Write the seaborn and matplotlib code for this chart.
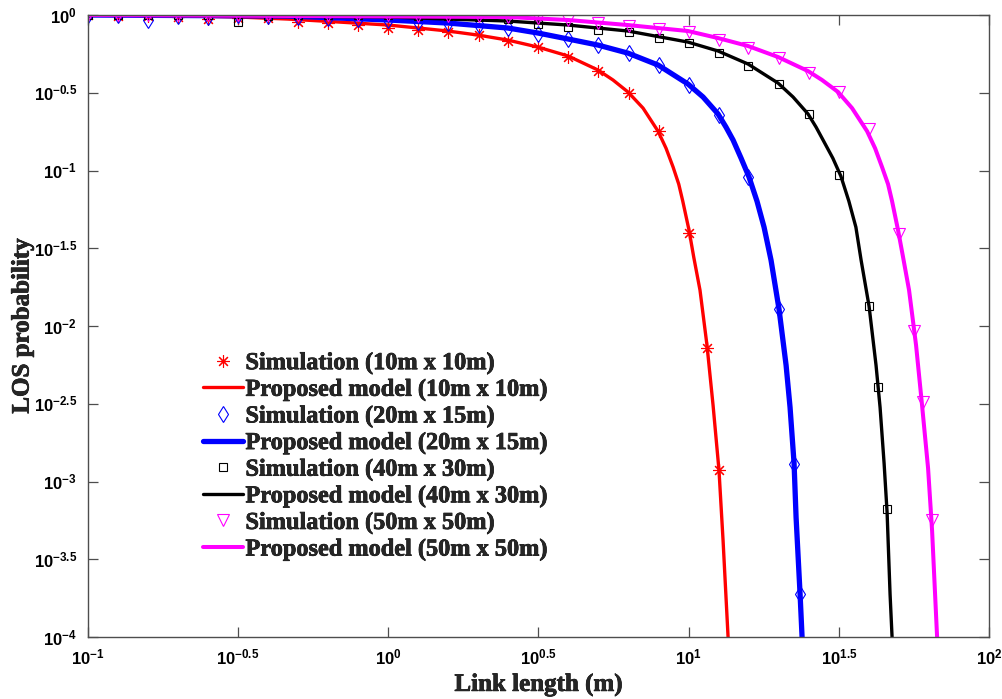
import numpy as np
import pandas as pd
import matplotlib
matplotlib.use("Agg")
import matplotlib.pyplot as plt
import seaborn as sns
from matplotlib.lines import Line2D
from matplotlib.ticker import FixedLocator, NullLocator
import matplotlib.patheffects as pe

# ---------------- data ----------------
# Simulation (10m x 10m)
sim1_x = [0.1, 0.126, 0.158, 0.2, 0.251, 0.316, 0.398, 0.501, 0.631, 0.794, 1.0, 1.26, 1.58, 2.0,
          2.51, 3.16, 3.98, 5.01, 6.31, 7.94, 10.0, 11.5, 12.6]
sim1_y = [1.0, 0.985, 0.985, 0.971, 0.942, 0.956, 0.956, 0.902, 0.888, 0.862, 0.825, 0.801, 0.777, 0.743,
          0.680, 0.622, 0.537, 0.436, 0.315, 0.179, 0.0396, 0.0072, 0.00118]
# Proposed model (10m x 10m)
mod1_x = [0.1, 0.215, 0.316, 0.463, 0.680, 1.0, 1.26, 1.58, 1.99, 2.50, 3.15, 3.97, 4.99, 5.60, 6.28,
          7.05, 7.91, 8.41, 8.88, 9.27, 9.56, 10.03, 10.40, 10.91, 11.51, 12.06, 12.62, 13.02, 13.53]
mod1_y = [1.0, 0.985, 0.971, 0.942, 0.902, 0.862, 0.825, 0.789, 0.743, 0.690, 0.622, 0.545, 0.443,
          0.382, 0.320, 0.252, 0.179, 0.139, 0.105, 0.0817, 0.0635, 0.0413, 0.0277, 0.0170, 0.00752,
          0.00309, 0.00118, 0.000418, 0.0001]

# Simulation (20m x 15m)
sim2_x = [0.1, 0.126, 0.158, 0.2, 0.251, 0.316, 0.398, 0.501, 0.631, 0.794, 1.0, 1.26, 1.58, 2.0,
          2.51, 3.16, 3.98, 5.01, 6.31, 7.94, 10.0, 12.6, 15.8, 20.0, 22.4, 23.5]
sim2_y = [1.0, 1.0, 0.929, 0.985, 0.971, 1.0, 0.985, 0.971, 0.956, 0.942, 0.929, 0.902, 0.888, 0.862,
          0.825, 0.755, 0.701, 0.641, 0.569, 0.477, 0.355, 0.227, 0.0907, 0.0128, 0.00129, 0.000188]
# Proposed model (20m x 15m)
mod2_x = [0.1, 0.463, 1.0, 1.58, 2.50, 3.15, 3.97, 4.99, 6.28, 7.91, 9.95, 11.17, 12.53, 13.32, 14.06,
          14.95, 15.89, 16.89, 17.83, 18.81, 20.0, 21.11, 21.76, 22.44, 22.79, 23.50, 23.86]
mod2_y = [1.0, 0.985, 0.929, 0.888, 0.825, 0.766, 0.701, 0.641, 0.569, 0.477, 0.360, 0.297, 0.231,
          0.190, 0.157, 0.120, 0.0907, 0.0635, 0.0432, 0.0265, 0.0128, 0.00559, 0.00300, 0.00131,
          0.000588, 0.000188, 0.0001]

# Simulation (40m x 30m)
sim3_x = [0.1, 0.126, 0.158, 0.2, 0.251, 0.316, 0.398, 0.501, 0.631, 0.794, 1.0, 1.26, 1.58, 2.0,
          2.51, 3.16, 3.98, 5.01, 6.31, 7.94, 10.0, 12.6, 15.8, 20.0, 25.1, 31.6, 39.8, 42.7, 45.8]
sim3_y = [1.0, 1.0, 1.0, 1.0, 1.0, 0.902, 0.985, 1.0, 1.0, 1.0, 1.0, 0.985, 0.985, 0.971,
          0.942, 0.875, 0.837, 0.801, 0.777, 0.711, 0.660, 0.569, 0.470, 0.360, 0.231, 0.0934, 0.0134,
          0.00404, 0.000665]
# Proposed model (40m x 30m)
mod3_x = [0.1, 1.0, 1.58, 2.50, 3.97, 6.28, 9.95, 12.53, 15.77, 19.85, 22.27, 24.98, 26.57, 28.03,
          30.21, 32.13, 34.16, 36.05, 37.52, 39.88, 42.07, 43.39, 44.75, 45.79, 46.85, 47.57]
mod3_y = [1.0, 0.971, 0.942, 0.915, 0.862, 0.789, 0.670, 0.587, 0.484, 0.365, 0.297, 0.231, 0.190,
          0.157, 0.120, 0.0920, 0.0635, 0.0432, 0.0265, 0.0134, 0.00559, 0.00300, 0.00131, 0.000633,
          0.000188, 0.0001]

# Simulation (50m x 50m)
sim4_x = [0.1, 0.126, 0.158, 0.2, 0.251, 0.316, 0.398, 0.501, 0.631, 0.794, 1.0, 1.26, 1.58, 2.0,
          2.51, 3.16, 3.98, 5.01, 6.31, 7.94, 10.0, 12.6, 15.8, 20.0, 25.1, 31.6, 39.8, 50.1, 56.3,
          60.3, 64.7]
sim4_y = [1.0, 1.0, 1.0, 1.0, 1.0, 1.0, 1.0, 1.0, 1.0, 1.0, 1.0, 0.985, 0.985, 0.985,
          0.971, 0.956, 0.929, 0.888, 0.850, 0.813, 0.777, 0.690, 0.613, 0.529, 0.423, 0.320, 0.185,
          0.0390, 0.00927, 0.00324, 0.000563]
# Proposed model (50m x 50m)
mod4_x = [0.1, 2.50, 3.97, 6.28, 9.95, 12.53, 15.77, 19.85, 24.98, 27.81, 31.44, 35.00, 39.28, 41.77,
          44.07, 46.13, 47.57, 49.81, 51.76, 54.19, 57.18, 59.87, 62.69, 64.65, 67.18]
mod4_y = [1.0, 0.971, 0.929, 0.862, 0.789, 0.711, 0.632, 0.537, 0.436, 0.382, 0.320, 0.252, 0.179,
          0.139, 0.105, 0.0817, 0.0635, 0.0413, 0.0277, 0.0170, 0.00752, 0.00309, 0.00122, 0.000484,
          0.0001]

sim_labels = ["Simulation (10m x 10m)", "Simulation (20m x 15m)",
              "Simulation (40m x 30m)", "Simulation (50m x 50m)"]
model_labels = ["Proposed model (10m x 10m)", "Proposed model (20m x 15m)",
                "Proposed model (40m x 30m)", "Proposed model (50m x 50m)"]

xtick_exponents = ["-1", "-0.5", "0", "0.5", "1", "1.5", "2"]
ytick_exponents = ["-4", "-3.5", "-3", "-2.5", "-2", "-1.5", "-1", "-0.5", "0"]
x_label = "Link length (m)"
y_label = "LOS probability"

# ---------------- styling ----------------
sns.set_style("ticks")
plt.rcParams["font.family"] = ["Liberation Serif", "DejaVu Serif"]
plt.rcParams["mathtext.fontset"] = "custom"
plt.rcParams["mathtext.bf"] = "Liberation Sans:bold"
plt.rcParams["mathtext.rm"] = "Liberation Sans"
plt.rcParams["mathtext.it"] = "Liberation Sans:italic"

colors = ["#ff0000", "#0000ff", "#000000", "#ff00ff"]
markers = [(8, 2, 0), "d", "s", "v"]
msizes = [9, 8, 6, 8.5]
lwidths = [2.4, 3.8, 2.4, 2.9]

fig = plt.figure(figsize=(10.02, 6.99), dpi=100)
ax = fig.add_axes([0.0878, 0.0887, 0.8992, 0.8898])
ax.set_xscale("log")
ax.set_yscale("log")

sims = [(sim1_x, sim1_y), (sim2_x, sim2_y), (sim3_x, sim3_y), (sim4_x, sim4_y)]
mods = [(mod1_x, mod1_y), (mod2_x, mod2_y), (mod3_x, mod3_y), (mod4_x, mod4_y)]

handles = []
for i in range(4):
    sx, sy = sims[i]
    mx, my = mods[i]
    sns.lineplot(x=sx, y=sy, ax=ax, color=colors[i], marker=markers[i], linestyle="",
                 markersize=msizes[i], markerfacecolor="none", markeredgecolor=colors[i],
                 markeredgewidth=0.8, sort=False, estimator=None, legend=False)
    sns.lineplot(x=mx, y=my, ax=ax, color=colors[i], linewidth=lwidths[i],
                 sort=False, estimator=None, legend=False)
    handles.append(Line2D([], [], linestyle="", marker=markers[i], markersize=msizes[i],
                          markerfacecolor="none", markeredgecolor=colors[i],
                          markeredgewidth=0.8, label=sim_labels[i]))
    handles.append(Line2D([], [], color=colors[i], linewidth=lwidths[i], label=model_labels[i]))

ax.set_xlim(0.1, 100)
ax.set_ylim(1e-4, 1)

xt = [10 ** float(e) for e in xtick_exponents]
yt = [10 ** float(e) for e in ytick_exponents]
ax.xaxis.set_major_locator(FixedLocator(xt))
ax.yaxis.set_major_locator(FixedLocator(yt))
ax.xaxis.set_minor_locator(NullLocator())
ax.yaxis.set_minor_locator(NullLocator())
ax.set_xticklabels([r"$\mathbf{10^{%s}}$" % e for e in xtick_exponents], fontsize=12)
ax.set_yticklabels([r"$\mathbf{10^{%s}}$" % e for e in ytick_exponents], fontsize=12)

spine_col = "#4d4d4d"
for sp in ax.spines.values():
    sp.set_color(spine_col)
    sp.set_linewidth(1.0)
ax.tick_params(axis="both", which="major", direction="in", length=7, width=0.9,
               color=spine_col, top=True, right=True, labelcolor="black", pad=8)

stroke = [pe.withStroke(linewidth=0.5, foreground="black")]
xl = ax.set_xlabel(x_label, fontsize=18, fontweight="bold", labelpad=3.5)
yl = ax.set_ylabel(y_label, fontsize=18, fontweight="bold", labelpad=0)
xl.set_path_effects(stroke)
yl.set_path_effects(stroke)

leg = ax.legend(handles=handles, loc="upper left", bbox_to_anchor=(0.1276, 0.458),
                frameon=False, prop={"weight": "bold", "size": 17.5},
                handlelength=1.65, handletextpad=0.1, labelspacing=0.19, borderpad=0,
                borderaxespad=0, numpoints=1)
for t in leg.get_texts():
    t.set_fontweight("bold")
    t.set_path_effects(stroke)

fig.savefig("out.png", dpi=100)
